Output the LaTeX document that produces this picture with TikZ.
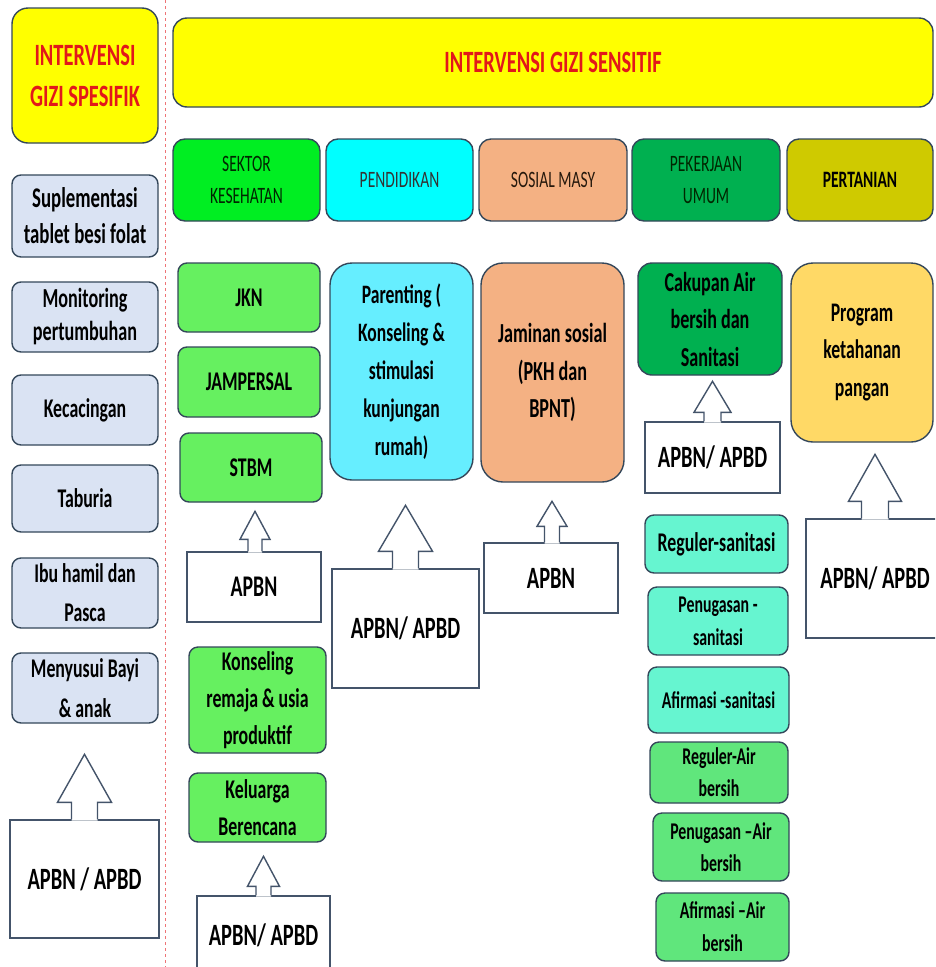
\documentclass[tikz,border=0pt]{standalone}
\usepackage{fontspec}
\setmainfont{Carlito}[FakeStretch=0.66]
\definecolor{bordc}{HTML}{34475A}
\definecolor{arrc}{HTML}{44546A}
\definecolor{titred}{HTML}{E2181A}
\definecolor{ylw}{HTML}{FFFF00}
\definecolor{sgreen}{HTML}{00EE22}
\definecolor{scyan}{HTML}{00FFFF}
\definecolor{salmon}{HTML}{F4B183}
\definecolor{dgreen}{HTML}{00B050}
\definecolor{olive}{HTML}{CFCA00}
\definecolor{bluegray}{HTML}{DAE3F3}
\definecolor{lgreen}{HTML}{66F060}
\definecolor{lcyan}{HTML}{66EEFF}
\definecolor{aqua}{HTML}{66F5D0}
\definecolor{mgreen}{HTML}{60E67C}
\definecolor{gold}{HTML}{FFD966}
\newcommand\upcall[6]{%
  \fill[white] ([xshift=#2pt-#6pt,yshift=-1.2pt]#1.north) -- ++(0pt,#3pt+1.2pt) -- ++(#6pt-#5pt,0pt) -- ++(#5pt,#4pt) -- ++(#5pt,-#4pt) -- ++(#6pt-#5pt,0pt) -- ++(0pt,-#3pt-1.2pt) -- cycle;
  \draw[arrline] ([xshift=#2pt-#6pt]#1.north) -- ++(0pt,#3pt) -- ++(#6pt-#5pt,0pt) -- ++(#5pt,#4pt) -- ++(#5pt,-#4pt) -- ++(#6pt-#5pt,0pt) -- ++(0pt,-#3pt);
}
\tikzset{
  bx/.style={draw=bordc, line width=1.4pt, rounded corners=9pt, inner sep=0pt, align=center,
    font=\bfseries\fontsize{27}{37}\selectfont},
  secbx/.style={bx, rounded corners=12pt, font=\fontsize{23.5}{32}\selectfont},
  fundbx/.style={draw=arrc, line width=1.4pt, fill=white, inner sep=0pt, align=center,
    font=\bfseries\fontsize{31}{37}\selectfont},
  smallbx/.style={bx, font=\bfseries\fontsize{24}{33}\selectfont},
  arrline/.style={draw=arrc, line width=1.4pt, line join=miter},
}
\begin{document}
\begin{tikzpicture}[x=1pt,y=-1pt]
\fill[white] (0,0) rectangle (935,967);
\useasboundingbox (0,0) rectangle (935,967);
\clip (0,0) rectangle (935,967);

% divider
\draw[draw=titred!60, line width=0.9pt, dash pattern=on 3pt off 3pt] (165,0) -- (165,967);

% titles
\node[bx, fill=ylw, rounded corners=16pt, minimum width=146, minimum height=135, text=titred,
  font=\bfseries\fontsize{31}{41}\selectfont] (spes) at (85,75.5) {INTERVENSI\\GIZI SPESIFIK};
\node[bx, fill=ylw, rounded corners=14pt, minimum width=760, minimum height=89, text=titred,
  font=\bfseries\fontsize{31}{41}\selectfont] (sens) at (553,62.5) {INTERVENSI GIZI SENSITIF};

% sectors
\node[secbx, fill=sgreen, minimum width=147, minimum height=82, text=black!75!green!60!black] (s1) at (246.5,180) {SEKTOR\\KESEHATAN};
\node[secbx, fill=scyan, minimum width=147, minimum height=82, text=black!80] (s2) at (399.5,180) {PENDIDIKAN};
\node[secbx, fill=salmon, minimum width=148, minimum height=82, text=black!80!brown] (s3) at (553,180) {SOSIAL MASY};
\node[secbx, fill=dgreen, minimum width=148, minimum height=82, text=black!70!green!50!black] (s4) at (706,180) {PEKERJAAN\\UMUM};
\node[secbx, fill=olive, minimum width=146, minimum height=82, font=\bfseries\fontsize{23.5}{32}\selectfont] (s5) at (860,180) {PERTANIAN};

% left column
\node[bx, fill=bluegray, minimum width=146, minimum height=82, font=\bfseries\fontsize{28.5}{36}\selectfont] (l1) at (85,216) {Suplementasi\\tablet besi folat};
\node[bx, fill=bluegray, minimum width=146, minimum height=70, font=\bfseries\fontsize{27.5}{33}\selectfont] (l2) at (85,317) {Monitoring\\pertumbuhan};
\node[bx, fill=bluegray, minimum width=146, minimum height=70] (l3) at (85,410) {Kecacingan};
\node[bx, fill=bluegray, minimum width=146, minimum height=67] (l4) at (85,498.5) {Taburia};
\node[bx, fill=bluegray, minimum width=146, minimum height=70, font=\bfseries\fontsize{27}{39}\selectfont] (l5) at (85,593) {Ibu hamil dan\\Pasca};
\node[bx, fill=bluegray, minimum width=146, minimum height=70, font=\bfseries\fontsize{27}{40}\selectfont] (l6) at (85,688) {Menyusui Bayi\\\& anak};
\node[fundbx, minimum width=149, minimum height=118] (lf) at (84.5,879) {APBN / APBD};
\upcall{lf}{0}{17}{48}{27}{13}

% column 1 kesehatan
\node[bx, fill=lgreen, minimum width=142, minimum height=69] (k1) at (249,297.5) {JKN};
\node[bx, fill=lgreen, minimum width=142, minimum height=70] (k2) at (249,382) {JAMPERSAL};
\node[bx, fill=lgreen, minimum width=142, minimum height=69] (k3) at (251,467.5) {STBM};
\node[fundbx, minimum width=134, minimum height=70, font=\bfseries\fontsize{30}{37}\selectfont] (kf1) at (254,587) {APBN};
\upcall{kf1}{1}{12}{28}{15}{7}
\node[bx, fill=lgreen, minimum width=137, minimum height=106] (k4) at (257.5,700) {Konseling\\remaja \& usia\\produktif};
\node[bx, fill=lgreen, minimum width=137, minimum height=69] (k5) at (257.5,807.5) {Keluarga\\Berencana};
\node[fundbx, minimum width=133, minimum height=78] (kf2) at (263.5,935) {APBN/ APBD};
\upcall{kf2}{0}{9}{30}{16}{7.5}

% column 2 pendidikan
\node[bx, fill=lcyan, rounded corners=22pt, minimum width=143, minimum height=217, font=\bfseries\fontsize{26.6}{38}\selectfont] (p1) at (401.5,371.5) {Parenting (\\Konseling \&\\stimulasi\\kunjungan\\rumah)};
\node[fundbx, minimum width=147, minimum height=119] (pf) at (405.5,628.5) {APBN/ APBD};
\upcall{pf}{0}{17}{46}{27}{13}

% column 3 sosial
\node[bx, fill=salmon, rounded corners=22pt, minimum width=143, minimum height=219, font=\bfseries\fontsize{27.5}{37.5}\selectfont] (j1) at (552.5,372.5) {Jaminan sosial\\(PKH dan\\BPNT)};
\node[fundbx, minimum width=134, minimum height=70] (jf) at (551,578) {APBN};
\upcall{jf}{1}{16}{25}{15}{7.5}

% column 4 pekerjaan umum
\node[bx, fill=dgreen, rounded corners=14pt, minimum width=144, minimum height=112, font=\bfseries\fontsize{27.4}{37.5}\selectfont] (w1) at (710,319) {Cakupan Air\\bersih dan\\Sanitasi};
\node[fundbx, minimum width=135, minimum height=71] (wf) at (712.5,457.5) {APBN/ APBD};
\upcall{wf}{0}{9}{31}{18.5}{8.5}
\node[bx, fill=aqua, minimum width=143, minimum height=58] (w2) at (716.5,544) {Reguler-sanitasi};
\node[smallbx, fill=aqua, minimum width=140, minimum height=68] (w3) at (718,621) {Penugasan -\\sanitasi};
\node[smallbx, fill=aqua, minimum width=141, minimum height=66] (w4) at (718.5,700) {Afirmasi -sanitasi};
\node[smallbx, fill=mgreen, minimum width=138, minimum height=61, font=\bfseries\fontsize{24}{32}\selectfont] (w5) at (719,772.5) {Reguler-Air\\bersih};
\node[smallbx, fill=mgreen, minimum width=136, minimum height=68, font=\bfseries\fontsize{24}{32}\selectfont] (w6) at (721,847) {Penugasan –Air\\bersih};
\node[smallbx, fill=mgreen, minimum width=133, minimum height=68] (w7) at (722.5,927) {Afirmasi –Air\\bersih};

% column 5 pertanian
\node[bx, fill=gold, rounded corners=22pt, minimum width=142, minimum height=179, font=\bfseries\fontsize{26.8}{37.5}\selectfont] (t1) at (862,352.5) {Program\\ketahanan\\pangan};
\node[fundbx, minimum width=138, minimum height=119] (tf) at (875,578.5) {APBN/ APBD};
\upcall{tf}{0}{17}{47}{26.5}{13.5}
\end{tikzpicture}
\end{document}
